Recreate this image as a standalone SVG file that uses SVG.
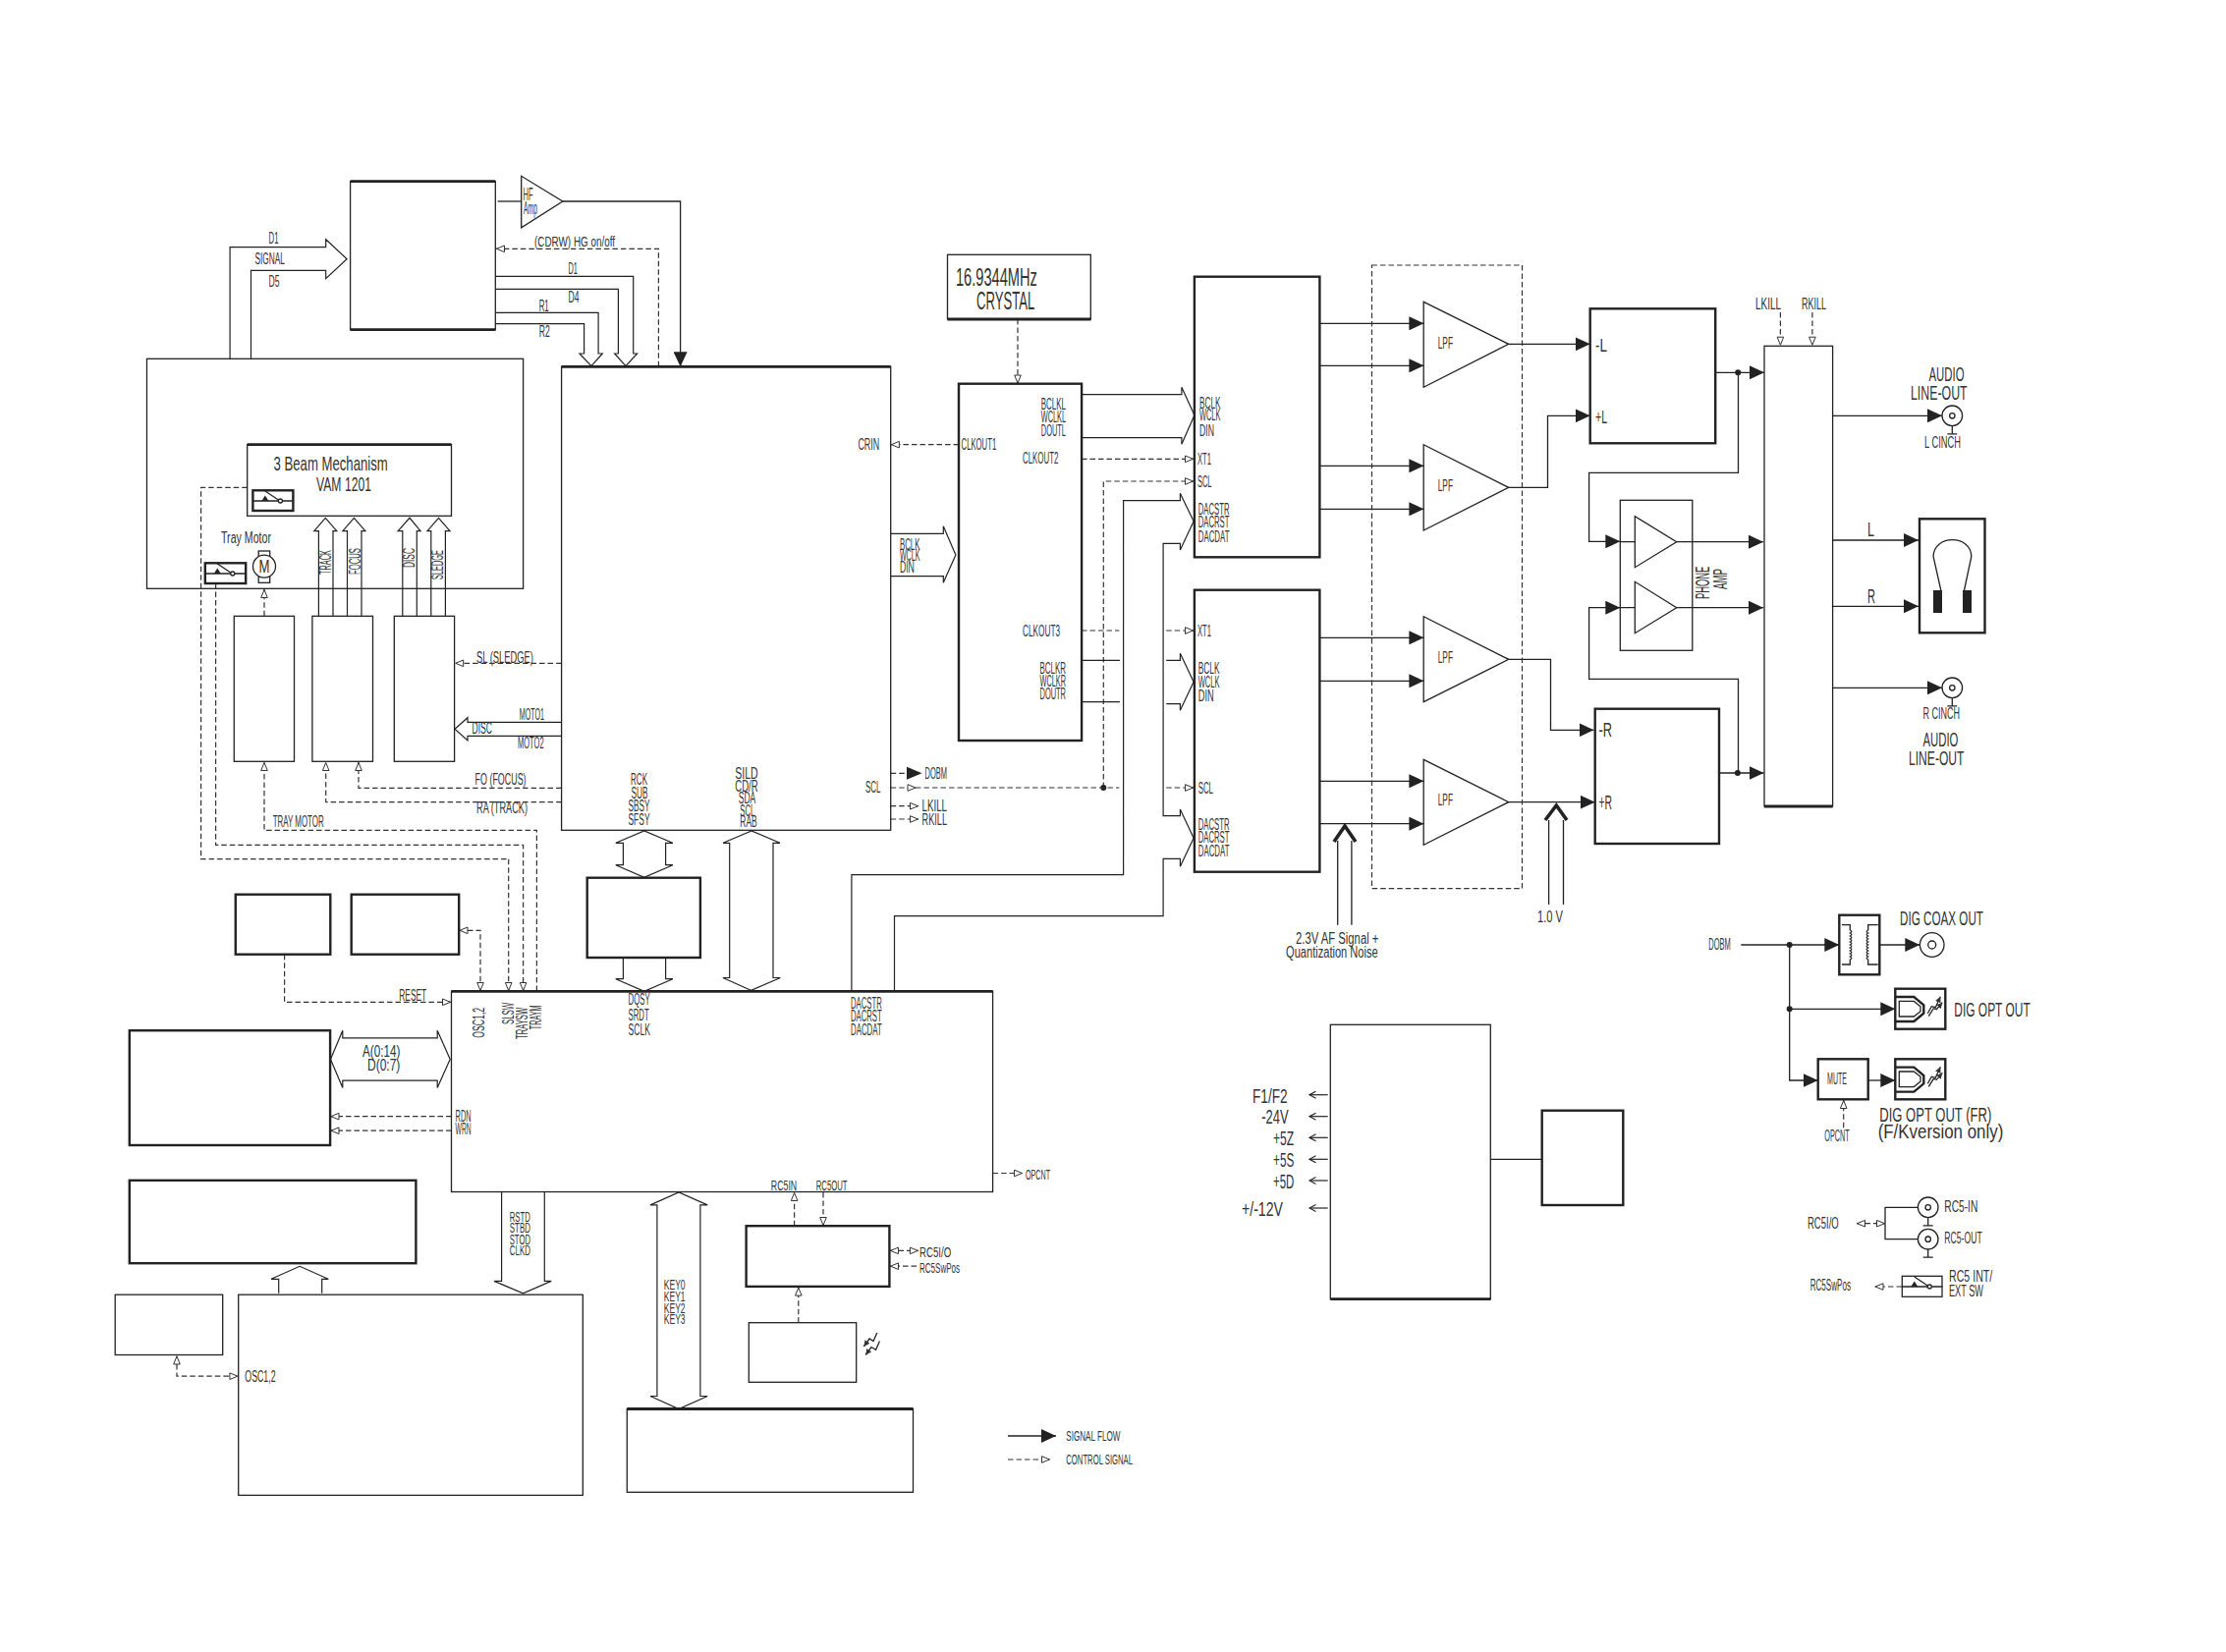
<svg xmlns="http://www.w3.org/2000/svg" width="2266" height="1682" viewBox="0 0 2266 1682">
<style>
text{font-family:"Liberation Sans",Arial,sans-serif;fill:#333;dominant-baseline:central}
.f14{font-size:14px}.f15{font-size:15px}.f16{font-size:16px}.f18{font-size:18px}.f21{font-size:21px}.f25{font-size:25px}
.b{fill:none;stroke:#222;stroke-width:1.3}
.k{fill:none;stroke:#222;stroke-width:2.4}
.th{fill:none;stroke:#222;stroke-width:2.8}
.s{fill:none;stroke:#222;stroke-width:1.3}
.sa{fill:none;stroke:#222;stroke-width:1.3;marker-end:url(#sol)}
.d{fill:none;stroke:#333;stroke-width:1.2;stroke-dasharray:5.5 3}
.da{fill:none;stroke:#333;stroke-width:1.2;stroke-dasharray:5.5 3;marker-end:url(#hol)}
.dd{fill:none;stroke:#333;stroke-width:1.2;stroke-dasharray:5.5 3;marker-end:url(#hol);marker-start:url(#hol)}
.bus{fill:none;stroke:#222;stroke-width:1.2}
.car{fill:none;stroke:#222;stroke-width:3.6}
.dot{fill:#222;stroke:none}
.oa{fill:none;stroke:#222;stroke-width:1.2;marker-end:url(#open)}
</style>
<defs>
<marker id="sol" markerUnits="userSpaceOnUse" markerWidth="16" markerHeight="14" refX="15" refY="7" orient="auto"><polygon points="0,0 15,7 0,14" fill="#222"/></marker>
<marker id="hol" markerUnits="userSpaceOnUse" markerWidth="11" markerHeight="9" refX="9.5" refY="4" orient="auto-start-reverse"><polygon points="1,0.7 9,4 1,7.3" fill="#fff" stroke="#333" stroke-width="1"/></marker>
<marker id="open" markerUnits="userSpaceOnUse" markerWidth="9" markerHeight="9" refX="7.5" refY="4" orient="auto"><path d="M1 0.5L7.5 4L1 7.5" fill="none" stroke="#222" stroke-width="1.1"/></marker>
<marker id="tiny" markerUnits="userSpaceOnUse" markerWidth="7" markerHeight="6" refX="6" refY="3" orient="auto"><polygon points="0,0 6,3 0,6" fill="#333"/></marker>
<g id="opt">
<rect class="k" x="0" y="0" width="51" height="41"/>
<path class="k" d="M0 8.3H19L29 16.7V25L19 33.3H0"/>
<path class="b" d="M4 12.7H19L25.7 18V23L19 28.3H4Z"/>
<path class="s" d="M33 25L37 18L41 19L46 8" style="marker-end:url(#tiny)"/>
<path class="s" d="M34 28L39 20L42 21L48 14" style="marker-end:url(#tiny)"/>
</g>
<g id="cinch">
<circle class="b" cx="0" cy="0" r="10.3"/><circle class="b" cx="0" cy="0" r="2.7"/>
<path class="b" d="M0 10.3V18.5M-5 18.5H5"/>
</g>
<g id="sw">
<path class="b" d="M0 10.5H26M30 10.5H41"/>
<polygon points="9,10.5 16,10.5 12.5,5" fill="#222"/>
<path class="b" d="M12.5 0.5L26 9.5"/><circle class="b" cx="28" cy="10.5" r="2"/>
</g>
</defs>

<g id="connectors">
<path class="bus" d="M234.1 365.3V251.7H331.7V243.7L353.1 263.7L331.7 283.7V275.3H255.5V365.3"/>
<path class="s" d="M506.6 205H530.7"/>
<path class="sa" d="M572.8 205H692.6V373.3"/>
<path class="da" d="M670.4 373.3V253.3H505"/>
<path class="bus" d="M504.3 281.3H644.7V360H648.6L637 372.7L625.6 360H629.4V294.3H504.3"/>
<path class="bus" d="M504.3 318.3H609.1V360H613.3L601.9 372.7L590 360H594.6V329.7H504.3"/>
<path class="bus" d="M324.4 627.3V540.7H319.8L331.3 527.3L342.8 540.7H339V627.3"/>
<path class="bus" d="M353.5 627.3V540.7H348.9L360.4 527.3L371.9 540.7H368V627.3"/>
<path class="bus" d="M409.8 627.3V540.7H405.2L417 527.3L428 540.7H424.3V627.3"/>
<path class="bus" d="M438.8 627.3V540.7H435L446.5 527.3L458 540.7H453.4V627.3"/>
<path class="d" d="M251.7 496.3H204.6V874.7H517.7"/>
<path class="da" d="M517.7 874.7V1009"/>
<path class="da" d="M219.6 594V860.3H532.6V1009"/>
<path class="da" d="M546.4 1009V845.3H269V776"/>
<path class="da" d="M269 627.3V600"/>
<path class="da" d="M571.6 675.3H463.2"/>
<path class="bus" d="M571.6 735.3H476V730.7L463 742.3L476 754V749.3H571.6"/>
<path class="da" d="M571.6 802.3H365V776"/>
<path class="da" d="M571.6 816.7H331.7V776"/>
<path class="bus" d="M626.8 858.3L655.8 846L684.9 858.3H677.6V880.7H684.9L655.8 893.3L626.8 880.7H634.4V858.3Z"/>
<path class="bus" d="M634.4 975V996.7H626.8L655.8 1009.3L684.9 996.7H677.6V975"/>
<path class="bus" d="M736 858.3L765 846L794 858.3H787V995.5H794.4L764.6 1008.3L735.9 995.5H742.7V858.3Z"/>
<path class="dd" d="M467.5 947.3H489V1009"/>
<path class="da" d="M289.6 971.7V1020.3H459"/>
<path class="bus" d="M348.8 1056.8V1049.2L336.5 1078.5L348.8 1107.4V1100.2H445.2V1107.4L458.2 1078.5L445.2 1049.2V1056.8Z"/>
<path class="da" d="M459.5 1136.7H336.5"/>
<path class="da" d="M459.5 1151.2H336.5"/>
<path class="bus" d="M510.6 1213.5V1304.4H503L532.5 1316.8L561.2 1304.4H554.3V1213.5"/>
<path class="bus" d="M283.7 1316.8V1302.3H276L305.1 1289.3L334.2 1302.3H327.7V1316.8"/>
<path class="dd" d="M180 1380.5V1401.2H242.4"/>
<path class="bus" d="M662 1226.9L691 1214L720.2 1226.9H712.9V1421.5H720.2L691 1434.5L662 1421.5H668.9V1226.9Z"/>
<path class="da" d="M808.6 1248.2V1214"/>
<path class="da" d="M838 1214V1248"/>
<path class="dd" d="M906 1273.4H934.9"/>
<path class="da" d="M933 1289.2H906"/>
<path class="da" d="M812.8 1346.7V1310.6"/>
<path class="da" d="M1010.6 1194.5H1041"/>
<path class="s" d="M1026 1462H1075" style="marker-end:url(#sol)"/>
<path class="da" d="M1026 1486H1069"/>
<path class="da" d="M1036 325V390.5"/>
<path class="da" d="M976 452.7H906.9"/>
<path class="bus" d="M906.7 543.3H960.3V535.7L972.9 565L960.3 593.3V586.7H906.7"/>
<path class="bus" d="M1101 401.7H1202.9V394.3L1215.9 422.7L1202.9 452.3V445.7H1101"/>
<path class="da" d="M1101 467.3H1215"/>
<path class="da" d="M1123.3 802V490H1215"/>
<circle class="dot" cx="1123.3" cy="802" r="3"/>
<path class="bus" d="M866.9 1010V890.7H1143.6V509.7H1201.4V502.3L1215.1 530.7L1201.4 560V553.3H1184.1V830.7H1201.4V824L1215.1 853.3L1201.4 882.3V874.3H1184.1V932.7H910.5V1010"/>
<path class="d" d="M1101 642H1139.4"/>
<path class="da" d="M1187.2 642H1215"/>
<path class="s" d="M1101 672.3H1140M1101 714.7H1140"/>
<path class="bus" d="M1187.2 672.3H1201.4V665.3L1215.1 694.3L1201.4 723.3V716.7H1187.2"/>
<path class="da" d="M906.7 802H932.5"/>
<path class="d" d="M932 802H1139.4"/>
<path class="da" d="M1187.2 802H1215"/>
<path class="d" d="M906.7 787.3H923"/>
<polygon class="dot" points="923,780.8 938.5,787.3 923,793.8"/>
<path class="da" d="M906.7 820.7H935"/>
<path class="da" d="M906.7 834H935"/>
<path class="sa" d="M1343.4 329.3H1449.4"/>
<path class="sa" d="M1343.4 372.3H1449.4"/>
<path class="sa" d="M1343.4 474.3H1449.4"/>
<path class="sa" d="M1343.4 518.3H1449.4"/>
<path class="sa" d="M1343.4 649.3H1449.4"/>
<path class="sa" d="M1343.4 693.3H1449.4"/>
<path class="sa" d="M1343.4 795.3H1449.4"/>
<path class="sa" d="M1343.4 838.7H1449.4"/>
<path class="sa" d="M1535.7 350.3H1618.7"/>
<path class="sa" d="M1535.7 496.3H1575.5V423.3H1618.7"/>
<path class="sa" d="M1535.7 671.3H1578.5V743.3H1622.5"/>
<path class="sa" d="M1535.7 816.7H1623.7"/>
<path class="sa" d="M1746.2 379.3H1796"/>
<circle class="dot" cx="1769.2" cy="379.3" r="3"/>
<path class="sa" d="M1769.5 379.3V481.3H1617.6V551.3H1649.3"/>
<path class="sa" d="M1769.5 787V691.3H1617.6V618.7H1649.3"/>
<path class="sa" d="M1750 787H1795.5"/>
<circle class="dot" cx="1768.9" cy="787" r="3"/>
<path class="s" d="M1649.3 551.7H1664.3M1649.3 618.7H1664.3"/>
<path class="sa" d="M1706.7 551.7H1795"/>
<path class="sa" d="M1706.7 618.7H1795"/>
<path class="da" d="M1812.4 318V351.7"/>
<path class="da" d="M1844.9 318V351.7"/>
<path class="sa" d="M1865.6 423.3H1977"/>
<path class="sa" d="M1865.6 700.3H1977"/>
<path class="sa" d="M1865 550H1953"/>
<path class="sa" d="M1865 617.3H1953"/>
<path class="car" d="M1358 857L1369 841L1380 857"/>
<path class="s" d="M1361.7 856V941.7M1375.9 856V941.7"/>
<path class="car" d="M1573 835L1584.3 820L1595 835"/>
<path class="s" d="M1576.6 835V921M1591.5 835V921"/>
<path class="sa" d="M1772.3 962H1872.3"/>
<circle class="dot" cx="1821.7" cy="962" r="3"/>
<circle class="dot" cx="1821.7" cy="1027.3" r="3"/>
<path class="sa" d="M1913.3 962H1954.3"/>
<path class="sa" d="M1821.7 1027.3H1929.3"/>
<path class="sa" d="M1821.7 962V1100H1850.7"/>
<path class="sa" d="M1901.7 1100H1929.3"/>
<path class="da" d="M1876.7 1148.3V1120"/>
<path class="s" d="M1952.4 1229.3H1919V1261.7H1952.4"/>
<path class="dd" d="M1890 1245.7H1919"/>
<path class="da" d="M1936 1310H1908.5"/>
<path class="s" d="M1517.3 1180.3H1569.7"/>
<path class="oa" d="M1351.7 1114.7H1333"/>
<path class="oa" d="M1351.7 1136.7H1333"/>
<path class="oa" d="M1351.7 1158.3H1333"/>
<path class="oa" d="M1351.7 1180.3H1333"/>
<path class="oa" d="M1351.7 1202H1333"/>
<path class="oa" d="M1351.7 1230H1333"/>
</g>

<g id="laser"><rect class="b" x="356.6" y="184.7" width="147.7" height="151"/><path class="th" d="M356.6 184.7H504.3M356.6 335.7H504.3"/></g>
<g id="hf-amp"><polygon class="b" points="530.7,179.3 530.7,231.7 572.8,205"/>
<text class="f18" x="532.5" y="198" textLength="10" lengthAdjust="spacingAndGlyphs">HF</text>
<text class="f18" x="533" y="212" textLength="14" lengthAdjust="spacingAndGlyphs">Amp</text></g>
<g id="bus-labels-laser">
<text class="f16" x="273.5" y="242.7" textLength="10" lengthAdjust="spacingAndGlyphs">D1</text>
<text class="f16" x="259.4" y="263.3" textLength="30.6" lengthAdjust="spacingAndGlyphs">SIGNAL</text>
<text class="f16" x="273.5" y="286.7" textLength="11" lengthAdjust="spacingAndGlyphs">D5</text>
<text class="f15" x="544" y="245" textLength="82" lengthAdjust="spacingAndGlyphs">(CDRW) HG on/off</text>
<text class="f16" x="578.5" y="273.3" textLength="9.5" lengthAdjust="spacingAndGlyphs">D1</text>
<text class="f16" x="578.5" y="302.3" textLength="11" lengthAdjust="spacingAndGlyphs">D4</text>
<text class="f16" x="548.7" y="311" textLength="10" lengthAdjust="spacingAndGlyphs">R1</text>
<text class="f16" x="548.7" y="337.3" textLength="11" lengthAdjust="spacingAndGlyphs">R2</text>
</g>
<g id="mechanism"><rect class="b" x="149.5" y="365.3" width="383.1" height="234"/></g>
<g id="beam"><rect class="b" x="251.7" y="452.7" width="207.8" height="72.6"/><path class="th" d="M251.7 452.7H459.5"/>
<text class="f21" x="278.5" y="471.7" textLength="116.3" lengthAdjust="spacingAndGlyphs">3 Beam Mechanism</text>
<text class="f21" x="322" y="492.7" textLength="56" lengthAdjust="spacingAndGlyphs">VAM 1201</text>
<rect class="k" x="257.4" y="499.3" width="41" height="20.7"/><use href="#sw" x="257.4" y="499.5"/>
</g>
<g id="tray-motor">
<text class="f16" x="225" y="547.3" textLength="51" lengthAdjust="spacingAndGlyphs">Tray Motor</text>
<rect class="k" x="208.8" y="573.3" width="41.4" height="20.7"/><use href="#sw" x="208.8" y="573.5"/>
<rect class="b" x="263.2" y="561" width="11.5" height="32.3"/>
<circle cx="269" cy="576.7" r="11.5" fill="#fff" stroke="#222" stroke-width="1.3"/>
<text class="f18" x="263.5" y="576.7" textLength="11" lengthAdjust="spacingAndGlyphs">M</text>
</g>
<g id="labels-drive">
<text class="f16" transform="rotate(-90 331 585)" x="331" y="585" textLength="25" lengthAdjust="spacingAndGlyphs">TRACK</text>
<text class="f16" transform="rotate(-90 361.5 585)" x="361.5" y="585" textLength="27" lengthAdjust="spacingAndGlyphs">FOCUS</text>
<text class="f16" transform="rotate(-90 416 578)" x="416" y="578" textLength="20" lengthAdjust="spacingAndGlyphs">DISC</text>
<text class="f16" transform="rotate(-90 445.7 590)" x="445.7" y="590" textLength="30" lengthAdjust="spacingAndGlyphs">SLEDGE</text>
</g>
<g id="drive-tray"><rect class="b" x="238.3" y="627.3" width="61.2" height="148"/></g>
<g id="drive-focus"><rect class="b" x="317.9" y="627.3" width="61.6" height="148"/></g>
<g id="drive-disc"><rect class="b" x="401.3" y="627.3" width="61.3" height="148"/></g>
<g id="dsp"><rect class="b" x="571.6" y="373.3" width="335.1" height="472"/><path class="th" d="M571.6 373.3H906.7"/>
<text class="f16" x="873.4" y="452" textLength="21.8" lengthAdjust="spacingAndGlyphs">CRIN</text>
<text class="f16" x="915.9" y="554" textLength="20.6" lengthAdjust="spacingAndGlyphs">BCLK</text>
<text class="f16" x="915.9" y="565" textLength="20.6" lengthAdjust="spacingAndGlyphs">WCLK</text>
<text class="f16" x="915.9" y="577.3" textLength="15" lengthAdjust="spacingAndGlyphs">DIN</text>
<text class="f16" x="881" y="801.7" textLength="15.4" lengthAdjust="spacingAndGlyphs">SCL</text>
<text class="f16" x="642" y="793.3" textLength="17" lengthAdjust="spacingAndGlyphs">RCK</text>
<text class="f16" x="642.5" y="807.3" textLength="17" lengthAdjust="spacingAndGlyphs">SUB</text>
<text class="f16" x="639.5" y="820.7" textLength="22" lengthAdjust="spacingAndGlyphs">SBSY</text>
<text class="f16" x="639.5" y="834" textLength="22" lengthAdjust="spacingAndGlyphs">SFSY</text>
<text class="f16" x="748.3" y="787.3" textLength="23.4" lengthAdjust="spacingAndGlyphs">SILD</text>
<text class="f16" x="748.3" y="800.7" textLength="23.4" lengthAdjust="spacingAndGlyphs">CD/R</text>
<text class="f16" x="751.7" y="812.7" textLength="17.6" lengthAdjust="spacingAndGlyphs">SDA</text>
<text class="f16" x="753.3" y="825" textLength="15" lengthAdjust="spacingAndGlyphs">SCL</text>
<text class="f16" x="753.3" y="836" textLength="17.4" lengthAdjust="spacingAndGlyphs">RAB</text>
</g>
<g id="dsp-side-labels">
<text class="f16" x="485" y="669.3" textLength="58" lengthAdjust="spacingAndGlyphs">SL (SLEDGE)</text>
<text class="f16" x="528.8" y="727" textLength="25.2" lengthAdjust="spacingAndGlyphs">MOTO1</text>
<text class="f16" x="527" y="756" textLength="26.6" lengthAdjust="spacingAndGlyphs">MOTO2</text>
<text class="f16" x="480.5" y="741.7" textLength="20.5" lengthAdjust="spacingAndGlyphs">DISC</text>
<text class="f16" x="483.6" y="793.7" textLength="52" lengthAdjust="spacingAndGlyphs">FO (FOCUS)</text>
<text class="f16" x="485" y="822.7" textLength="52" lengthAdjust="spacingAndGlyphs">RA (TRACK)</text>
<text class="f16" x="277.7" y="836" textLength="52" lengthAdjust="spacingAndGlyphs">TRAY MOTOR</text>
<text class="f16" x="941.5" y="787" textLength="22.5" lengthAdjust="spacingAndGlyphs">DOBM</text>
<text class="f16" x="938.5" y="820.7" textLength="25.5" lengthAdjust="spacingAndGlyphs">LKILL</text>
<text class="f16" x="938.5" y="834" textLength="25.5" lengthAdjust="spacingAndGlyphs">RKILL</text>
</g>
<g id="sram"><rect class="k" x="597.7" y="893.7" width="115.2" height="81.3"/></g>
<g id="ram-a"><rect class="k" x="239.8" y="910.7" width="96.5" height="61"/></g>
<g id="ram-b"><rect class="k" x="357.7" y="910.7" width="109.5" height="61"/></g>
<g id="controller"><rect class="b" x="459.5" y="1009.3" width="551.1" height="204.2"/><path class="th" d="M459.5 1009.3H1010.6"/>
<text class="f16" transform="rotate(-90 487.7 1056.8)" x="487.7" y="1056.8" textLength="31" lengthAdjust="spacingAndGlyphs">OSC1,2</text>
<text class="f16" transform="rotate(-90 517 1043)" x="517" y="1043" textLength="22.3" lengthAdjust="spacingAndGlyphs">SLSW</text>
<text class="f16" transform="rotate(-90 531.3 1057.9)" x="531.3" y="1057.9" textLength="32" lengthAdjust="spacingAndGlyphs">TRAYSW</text>
<text class="f16" transform="rotate(-90 545.8 1048.2)" x="545.8" y="1048.2" textLength="24.8" lengthAdjust="spacingAndGlyphs">TRAYM</text>
<text class="f16" x="639.6" y="1017.2" textLength="22.2" lengthAdjust="spacingAndGlyphs">DQSY</text>
<text class="f16" x="639.6" y="1033.4" textLength="21" lengthAdjust="spacingAndGlyphs">SRDT</text>
<text class="f16" x="639.6" y="1048.2" textLength="22.2" lengthAdjust="spacingAndGlyphs">SCLK</text>
<text class="f16" x="866" y="1021.3" textLength="31.7" lengthAdjust="spacingAndGlyphs">DACSTR</text>
<text class="f16" x="866" y="1034.4" textLength="31.7" lengthAdjust="spacingAndGlyphs">DACRST</text>
<text class="f16" x="866" y="1048.9" textLength="31.7" lengthAdjust="spacingAndGlyphs">DACDAT</text>
<text class="f16" x="463.6" y="1136" textLength="16" lengthAdjust="spacingAndGlyphs">RDN</text>
<text class="f16" x="463.6" y="1149.5" textLength="16" lengthAdjust="spacingAndGlyphs">WRN</text>
<text class="f15" x="784.8" y="1206.2" textLength="26.4" lengthAdjust="spacingAndGlyphs">RC5IN</text>
<text class="f15" x="830.8" y="1206.2" textLength="31.7" lengthAdjust="spacingAndGlyphs">RC5OUT</text>
<text class="f15" x="1044" y="1195.5" textLength="25" lengthAdjust="spacingAndGlyphs">OPCNT</text>
<text class="f16" x="406.3" y="1013.3" textLength="27.9" lengthAdjust="spacingAndGlyphs">RESET</text>
<text class="f16" x="369" y="1070.6" textLength="38.3" lengthAdjust="spacingAndGlyphs">A(0:14)</text>
<text class="f16" x="374" y="1084.4" textLength="33.3" lengthAdjust="spacingAndGlyphs">D(0:7)</text>
<text class="f15" x="518.7" y="1238.3" textLength="21.3" lengthAdjust="spacingAndGlyphs">RSTD</text>
<text class="f15" x="518.7" y="1249.7" textLength="21.3" lengthAdjust="spacingAndGlyphs">STBD</text>
<text class="f15" x="518.7" y="1261" textLength="21.3" lengthAdjust="spacingAndGlyphs">STOD</text>
<text class="f15" x="518.7" y="1272" textLength="21.3" lengthAdjust="spacingAndGlyphs">CLKD</text>
<text class="f15" x="675.8" y="1307.8" textLength="21.8" lengthAdjust="spacingAndGlyphs">KEY0</text>
<text class="f15" x="675.8" y="1319.5" textLength="21.8" lengthAdjust="spacingAndGlyphs">KEY1</text>
<text class="f15" x="675.8" y="1331.3" textLength="21.8" lengthAdjust="spacingAndGlyphs">KEY2</text>
<text class="f15" x="675.8" y="1342.6" textLength="21.8" lengthAdjust="spacingAndGlyphs">KEY3</text>
</g>
<g id="flash"><rect class="k" x="131.8" y="1049.2" width="204.3" height="116.8"/></g>
<g id="display"><rect class="k" x="131.8" y="1201.8" width="291.6" height="84.4"/></g>
<g id="display-driver"><rect class="b" x="242.7" y="1318.2" width="350.6" height="204.2"/>
<text class="f16" x="249.3" y="1401" textLength="31.3" lengthAdjust="spacingAndGlyphs">OSC1,2</text></g>
<g id="osc"><rect class="b" x="117.2" y="1318.2" width="109.5" height="61.3"/></g>
<g id="keyboard"><rect class="b" x="638.3" y="1434.5" width="291.2" height="84.8"/><path class="th" d="M638.3 1434.5H929.5"/></g>
<g id="rc5"><rect class="k" x="759.6" y="1248.2" width="145.8" height="61.7"/>
<text class="f15" x="936" y="1274" textLength="32.2" lengthAdjust="spacingAndGlyphs">RC5I/O</text>
<text class="f15" x="936" y="1290" textLength="41" lengthAdjust="spacingAndGlyphs">RC5SwPos</text></g>
<g id="ir"><rect class="b" x="762.3" y="1346.7" width="109.4" height="60.6"/>
<path class="s" d="M892.8 1357L889 1365.6L885.1 1363L879.4 1370.9" style="marker-end:url(#tiny)"/>
<path class="s" d="M895.4 1365.6L891.6 1374.3L887 1371.5L881.3 1379.5" style="marker-end:url(#tiny)"/></g>
<g id="legend">
<text class="f14" x="1085.3" y="1462" textLength="55.1" lengthAdjust="spacingAndGlyphs">SIGNAL FLOW</text>
<text class="f14" x="1085.3" y="1486" textLength="67.7" lengthAdjust="spacingAndGlyphs">CONTROL SIGNAL</text></g>
<g id="crystal"><rect class="b" x="964.5" y="259.3" width="145.8" height="65.7"/><path class="th" d="M964.5 325H1110.3"/>
<text class="f25" x="972.9" y="281.7" textLength="83" lengthAdjust="spacingAndGlyphs">16.9344MHz</text>
<text class="f25" x="994" y="306" textLength="59.3" lengthAdjust="spacingAndGlyphs">CRYSTAL</text></g>
<g id="clock"><rect class="k" x="976" y="390.7" width="125.1" height="363.3"/>
<text class="f16" x="978.6" y="452" textLength="35.6" lengthAdjust="spacingAndGlyphs">CLKOUT1</text>
<text class="f16" x="1059.8" y="411.3" textLength="25.2" lengthAdjust="spacingAndGlyphs">BCLKL</text>
<text class="f16" x="1059.8" y="424.3" textLength="25.2" lengthAdjust="spacingAndGlyphs">WCLKL</text>
<text class="f16" x="1059.8" y="438" textLength="25.2" lengthAdjust="spacingAndGlyphs">DOUTL</text>
<text class="f16" x="1041" y="466.7" textLength="36.4" lengthAdjust="spacingAndGlyphs">CLKOUT2</text>
<text class="f16" x="1041" y="642" textLength="38" lengthAdjust="spacingAndGlyphs">CLKOUT3</text>
<text class="f16" x="1058.5" y="680.7" textLength="26.5" lengthAdjust="spacingAndGlyphs">BCLKR</text>
<text class="f16" x="1058.5" y="693.7" textLength="26.5" lengthAdjust="spacingAndGlyphs">WCLKR</text>
<text class="f16" x="1058.5" y="706.7" textLength="26.5" lengthAdjust="spacingAndGlyphs">DOUTR</text></g>
<g id="dac-l"><rect class="k" x="1215.9" y="281.7" width="127.5" height="285.6"/>
<text class="f16" x="1221" y="410" textLength="21.4" lengthAdjust="spacingAndGlyphs">BCLK</text>
<text class="f16" x="1221" y="422.7" textLength="21.4" lengthAdjust="spacingAndGlyphs">WCLK</text>
<text class="f16" x="1221" y="438" textLength="15" lengthAdjust="spacingAndGlyphs">DIN</text>
<text class="f16" x="1219" y="467" textLength="14" lengthAdjust="spacingAndGlyphs">XT1</text>
<text class="f16" x="1219" y="490" textLength="14.5" lengthAdjust="spacingAndGlyphs">SCL</text>
<text class="f16" x="1219.7" y="518.7" textLength="31.8" lengthAdjust="spacingAndGlyphs">DACSTR</text>
<text class="f16" x="1219.7" y="531.7" textLength="31.8" lengthAdjust="spacingAndGlyphs">DACRST</text>
<text class="f16" x="1219.7" y="546.7" textLength="31.8" lengthAdjust="spacingAndGlyphs">DACDAT</text></g>
<g id="dac-r"><rect class="k" x="1215.9" y="600.7" width="127.5" height="287"/>
<text class="f16" x="1219" y="642" textLength="14" lengthAdjust="spacingAndGlyphs">XT1</text>
<text class="f16" x="1219.7" y="680.7" textLength="21.8" lengthAdjust="spacingAndGlyphs">BCLK</text>
<text class="f16" x="1219.7" y="694" textLength="21.8" lengthAdjust="spacingAndGlyphs">WCLK</text>
<text class="f16" x="1219.7" y="708.3" textLength="16" lengthAdjust="spacingAndGlyphs">DIN</text>
<text class="f16" x="1219.7" y="802" textLength="15.3" lengthAdjust="spacingAndGlyphs">SCL</text>
<text class="f16" x="1219.7" y="839.3" textLength="31.8" lengthAdjust="spacingAndGlyphs">DACSTR</text>
<text class="f16" x="1219.7" y="852.3" textLength="31.8" lengthAdjust="spacingAndGlyphs">DACRST</text>
<text class="f16" x="1219.7" y="866.7" textLength="31.8" lengthAdjust="spacingAndGlyphs">DACDAT</text></g>
<g id="noise-label">
<text class="f16" x="1319" y="955" textLength="84.4" lengthAdjust="spacingAndGlyphs">2.3V AF Signal +</text>
<text class="f16" x="1309" y="969" textLength="93.7" lengthAdjust="spacingAndGlyphs">Quantization Noise</text>
<text class="f16" x="1565" y="933.3" textLength="26" lengthAdjust="spacingAndGlyphs">1.0 V</text></g>
<g id="lpf-group"><rect x="1396.5" y="270" width="153" height="634.7" class="d"/></g>
<g id="lpf1"><polygon class="b" points="1449.2,307.3 1449.2,394.3 1535.7,350.3"/><text class="f16" x="1463.7" y="349" textLength="15.3" lengthAdjust="spacingAndGlyphs">LPF</text></g>
<g id="lpf2"><polygon class="b" points="1449.2,452.7 1449.2,540 1535.7,496.3"/><text class="f16" x="1463.7" y="494.3" textLength="15.3" lengthAdjust="spacingAndGlyphs">LPF</text></g>
<g id="lpf3"><polygon class="b" points="1449.2,627.7 1449.2,714.7 1535.7,671.3"/><text class="f16" x="1463.7" y="669" textLength="15.3" lengthAdjust="spacingAndGlyphs">LPF</text></g>
<g id="lpf4"><polygon class="b" points="1449.2,773.3 1449.2,860.3 1535.7,816.7"/><text class="f16" x="1463.7" y="814" textLength="15.3" lengthAdjust="spacingAndGlyphs">LPF</text></g>
<g id="sum-l"><rect class="k" x="1618.7" y="314.3" width="127.5" height="137"/>
<text class="f18" x="1624" y="351.7" textLength="12" lengthAdjust="spacingAndGlyphs">-L</text>
<text class="f18" x="1624" y="425" textLength="12" lengthAdjust="spacingAndGlyphs">+L</text></g>
<g id="sum-r"><rect class="k" x="1623.7" y="721.7" width="126.3" height="137.3"/>
<text class="f21" x="1627.5" y="742.7" textLength="13.5" lengthAdjust="spacingAndGlyphs">-R</text>
<text class="f21" x="1627.5" y="816.7" textLength="13.5" lengthAdjust="spacingAndGlyphs">+R</text></g>
<g id="phone-amp"><rect class="b" x="1649.3" y="509.3" width="73.5" height="153"/>
<polygon class="b" points="1664.3,525.7 1664.3,577.7 1706.7,551.7"/>
<polygon class="b" points="1664.3,592.3 1664.3,644.7 1706.7,618.7"/>
<text class="f21" transform="rotate(-90 1732.8 610)" x="1732.8" y="610" textLength="33.3" lengthAdjust="spacingAndGlyphs">PHONE</text>
<text class="f21" transform="rotate(-90 1750 600)" x="1750" y="600" textLength="21" lengthAdjust="spacingAndGlyphs">AMP</text></g>
<g id="audio-switch"><rect class="b" x="1796" y="352.3" width="69.6" height="468.7"/><path class="th" d="M1796 821H1865.6"/>
<text class="f16" x="1787" y="309.3" textLength="26" lengthAdjust="spacingAndGlyphs">LKILL</text>
<text class="f16" x="1834" y="309.3" textLength="25" lengthAdjust="spacingAndGlyphs">RKILL</text></g>
<g id="l-cinch"><use href="#cinch" x="1987.3" y="423.3"/>
<text class="f21" x="1963.5" y="380" textLength="36" lengthAdjust="spacingAndGlyphs">AUDIO</text>
<text class="f21" x="1945" y="399" textLength="57.6" lengthAdjust="spacingAndGlyphs">LINE-OUT</text>
<text class="f16" x="1959" y="450.7" textLength="37" lengthAdjust="spacingAndGlyphs">L CINCH</text></g>
<g id="r-cinch"><use href="#cinch" x="1987.3" y="700.3"/>
<text class="f16" x="1957.4" y="726.7" textLength="37.6" lengthAdjust="spacingAndGlyphs">R CINCH</text>
<text class="f21" x="1957.4" y="752.7" textLength="36" lengthAdjust="spacingAndGlyphs">AUDIO</text>
<text class="f21" x="1943" y="771" textLength="56.5" lengthAdjust="spacingAndGlyphs">LINE-OUT</text></g>
<g id="headphones"><rect class="k" x="1954" y="528.3" width="66.5" height="116"/>
<path class="b" d="M1975.8 601L1968.1 566.7C1968.1 544 2006.8 544 2006.8 566.7L1999.5 601"/>
<rect x="1968" y="601" width="9" height="23" fill="#222"/><rect x="1998" y="601" width="9" height="23" fill="#222"/>
<text class="f21" x="1901" y="538.3" textLength="7" lengthAdjust="spacingAndGlyphs">L</text>
<text class="f21" x="1901" y="606" textLength="8" lengthAdjust="spacingAndGlyphs">R</text></g>
<g id="dig-coax"><rect class="k" x="1872.3" y="931.7" width="41" height="60.6"/>
<path class="b" d="M1875 941.7H1883.3V947q3 1.5 0 3q3 1.5 0 3q3 1.5 0 3q3 1.5 0 3q3 1.5 0 3q3 1.5 0 3q3 1.5 0 3q3 1.5 0 3q3 1.5 0 3q3 1.5 0 3V982H1875"/>
<path class="b" d="M1911.7 941.7H1901.7V947q-3 1.5 0 3q-3 1.5 0 3q-3 1.5 0 3q-3 1.5 0 3q-3 1.5 0 3q-3 1.5 0 3q-3 1.5 0 3q-3 1.5 0 3q-3 1.5 0 3q-3 1.5 0 3V982H1911.7"/>
<circle class="b" cx="1966.7" cy="962" r="12.3"/><circle class="b" cx="1966.7" cy="962" r="4"/>
<text class="f16" x="1739.3" y="961.7" textLength="22.4" lengthAdjust="spacingAndGlyphs">DOBM</text>
<text class="f21" x="1934" y="934.3" textLength="85" lengthAdjust="spacingAndGlyphs">DIG COAX OUT</text></g>
<g id="dig-opt"><use href="#opt" x="1929.3" y="1006.7"/>
<text class="f21" x="1989.3" y="1027.7" textLength="77.4" lengthAdjust="spacingAndGlyphs">DIG OPT OUT</text></g>
<g id="mute"><rect class="k" x="1850.7" y="1078.3" width="51" height="41"/>
<text class="f16" x="1860" y="1098.3" textLength="20" lengthAdjust="spacingAndGlyphs">MUTE</text>
<text class="f16" x="1857.3" y="1156" textLength="25.4" lengthAdjust="spacingAndGlyphs">OPCNT</text></g>
<g id="dig-opt-fr"><use href="#opt" x="1929.3" y="1078.3"/>
<text class="f21" x="1913.3" y="1134.3" textLength="114" lengthAdjust="spacingAndGlyphs">DIG OPT OUT (FR)</text>
<text class="f21" x="1911.7" y="1151.7" textLength="127.6" lengthAdjust="spacingAndGlyphs">(F/Kversion only)</text></g>
<g id="rc5-jacks"><use href="#cinch" x="1962.7" y="1229.3"/><use href="#cinch" x="1962.7" y="1261.7"/>
<text class="f16" x="1840" y="1245.7" textLength="31.7" lengthAdjust="spacingAndGlyphs">RC5I/O</text>
<text class="f16" x="1979.3" y="1228.3" textLength="34" lengthAdjust="spacingAndGlyphs">RC5-IN</text>
<text class="f16" x="1979.3" y="1260" textLength="38.4" lengthAdjust="spacingAndGlyphs">RC5-OUT</text></g>
<g id="rc5-switch"><rect class="b" x="1936.3" y="1299.3" width="40.7" height="21"/><use href="#sw" x="1936.3" y="1299.5"/>
<text class="f16" x="1842.7" y="1308.3" textLength="41.3" lengthAdjust="spacingAndGlyphs">RC5SwPos</text>
<text class="f16" x="1984" y="1299" textLength="44.3" lengthAdjust="spacingAndGlyphs">RC5 INT/</text>
<text class="f16" x="1984" y="1314.3" textLength="35" lengthAdjust="spacingAndGlyphs">EXT SW</text></g>
<g id="psu"><rect class="b" x="1354.3" y="1043.3" width="163" height="279.4"/><path class="th" d="M1354.3 1322.7H1517.3"/>
<text class="f21" x="1275" y="1115" textLength="35.7" lengthAdjust="spacingAndGlyphs">F1/F2</text>
<text class="f21" x="1284.3" y="1136.7" textLength="27.4" lengthAdjust="spacingAndGlyphs">-24V</text>
<text class="f21" x="1296" y="1158.3" textLength="21.3" lengthAdjust="spacingAndGlyphs">+5Z</text>
<text class="f21" x="1296" y="1180.3" textLength="21.3" lengthAdjust="spacingAndGlyphs">+5S</text>
<text class="f21" x="1296" y="1202" textLength="21.3" lengthAdjust="spacingAndGlyphs">+5D</text>
<text class="f21" x="1264" y="1230" textLength="42" lengthAdjust="spacingAndGlyphs">+/-12V</text></g>
<g id="transformer"><rect class="k" x="1569.7" y="1130.7" width="82.6" height="96.3"/></g>
</svg>
